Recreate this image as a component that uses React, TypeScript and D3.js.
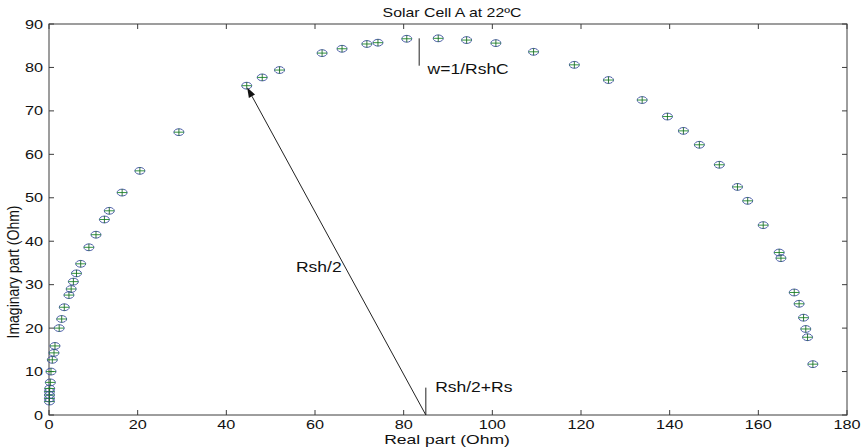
import React from "react";
import * as d3 from "d3";

// Impedance spectrum: real vs. imaginary part (Ohm)
const realPart = [
  0.1, 0.1, 0.1, 0.1, 0.15, 0.3, 0.45, 0.75, 1.13, 1.35,
  2.3, 2.86, 3.45, 4.5, 5.0, 5.5, 6.2, 7.15,
  9.0, 10.6, 12.5, 13.6, 16.5, 20.5, 29.3,
  44.6, 48.1, 52.0,
  61.6, 66.1, 71.7, 74.2, 80.7,
  87.8, 94.2, 100.8, 109.3, 118.5, 126.2,
  133.8, 139.5, 143.1, 146.7, 151.2, 155.3, 157.6, 161.1,
  164.7, 165.1,
  168.1, 169.2, 170.2, 170.7, 171.1, 172.3,
];
const imagPart = [
  3.1, 3.8, 4.6, 5.4, 6.1, 7.5, 10.0, 12.7, 14.3, 15.9,
  20.0, 22.1, 24.8, 27.6, 29.0, 30.7, 32.6, 34.8,
  38.6, 41.5, 45.0, 47.0, 51.2, 56.2, 65.1,
  75.8, 77.7, 79.4,
  83.3, 84.3, 85.4, 85.7, 86.6,
  86.7, 86.3, 85.6, 83.6, 80.6, 77.1,
  72.5, 68.7, 65.4, 62.2, 57.6, 52.5, 49.3, 43.7,
  37.4, 36.1,
  28.2, 25.6, 22.4, 19.8, 17.9, 11.7,
];

const xTicks = [0, 20, 40, 60, 80, 100, 120, 140, 160, 180];
const yTicks = [0, 10, 20, 30, 40, 50, 60, 70, 80, 90];

const title = "Solar Cell A at 22ºC";
const xLabel = "Real part (Ohm)";
const yLabel = "Imaginary part (Ohm)";

// Annotations (data coordinates)
const centerRe = 85; // Rsh/2 + Rs
const arrowTip = [44.7, 75.4];
const peakRe = 83.5;

const W = 863;
const H = 448;
const FONT = "'Liberation Sans', Arial, sans-serif";
const AXIS = "#3c3c3c";

function SText({ x, y, sx = 1.22, size = 13, anchor = "start", children }: any) {
  return (
    <text
      transform={`translate(${x},${y}) scale(${sx},1)`}
      fontSize={size}
      fontFamily={FONT}
      textAnchor={anchor}
      fill="#111"
    >
      {children}
    </text>
  );
}

export default function App() {
  const left = 49, right = 847, top = 24, bottom = 415;
  const x = d3.scaleLinear().domain([0, 180]).range([left, right]);
  const y = d3.scaleLinear().domain([0, 90]).range([bottom, top]);
  const pts = realPart.map((r, i) => [x(r), y(imagPart[i])]);

  // arrow geometry
  const x0 = x(centerRe), y0 = y(0);
  const x1 = x(arrowTip[0]), y1 = y(arrowTip[1]);
  const ang = Math.atan2(y1 - y0, x1 - x0);
  const hl = 10, hw = 3.5;
  const bx = x1 - hl * Math.cos(ang), by = y1 - hl * Math.sin(ang);
  const head = [
    [x1, y1],
    [bx + hw * Math.sin(ang), by - hw * Math.cos(ang)],
    [bx - hw * Math.sin(ang), by + hw * Math.cos(ang)],
  ];

  return (
    <svg
      width={W}
      height={H}
      style={{ position: "absolute", left: 0, top: 0, background: "#fff" }}
    >
      <rect x={0} y={0} width={W} height={H} fill="#fff" />
      <SText x={452} y={17} anchor="middle">{title}</SText>

      {/* axes box */}
      <rect x={left} y={top} width={right - left} height={bottom - top} fill="none" stroke={AXIS} strokeWidth={1} />
      {xTicks.map((t) => (
        <g key={"x" + t}>
          <line x1={x(t)} x2={x(t)} y1={bottom} y2={bottom - 5} stroke={AXIS} />
          <line x1={x(t)} x2={x(t)} y1={top} y2={top + 5} stroke={AXIS} />
          <SText x={x(t)} y={428.8} sx={1.25} anchor="middle">{t}</SText>
        </g>
      ))}
      {yTicks.map((t) => (
        <g key={"y" + t}>
          <line x1={left} x2={left + 5} y1={y(t)} y2={y(t)} stroke={AXIS} />
          <line x1={right} x2={right - 5} y1={y(t)} y2={y(t)} stroke={AXIS} />
          <SText x={43} y={y(t) + 4.6} sx={1.25} anchor="end">{t}</SText>
        </g>
      ))}
      <SText x={447} y={443.6} size={13} sx={1.35} anchor="middle">{xLabel}</SText>
      <text
        transform={`translate(19,272) rotate(-90) scale(1,1.2)`}
        fontSize={14}
        fontFamily={FONT}
        textAnchor="middle"
        fill="#111"
      >
        {yLabel}
      </text>

      {/* markers */}
      {pts.map(([px, py], i) => (
        <g key={i}>
          <ellipse cx={px} cy={py} rx={5} ry={3.4} fill="none" stroke="#3b4f9e" strokeWidth={0.9} />
          <line x1={px - 5} x2={px + 5} y1={py} y2={py} stroke="#1e8a2a" strokeWidth={0.9} />
          <line x1={px} x2={px} y1={py - 3.6} y2={py + 3.6} stroke="#1e6a2a" strokeWidth={0.9} />
        </g>
      ))}

      {/* Rsh/2 radius arrow */}
      <line x1={x0} y1={y0} x2={bx} y2={by} stroke="#222" strokeWidth={1} />
      <polygon points={head.map((p) => p.join(",")).join(" ")} fill="#111" />
      <SText x={x(55.7)} y={y(32.9)} size={14} sx={1.25}>Rsh/2</SText>

      {/* center marker */}
      <line x1={x0} x2={x0} y1={y(0)} y2={y(6.3)} stroke="#222" strokeWidth={1} />
      <SText x={x(87.1)} y={y(5.4)} size={14} sx={1.25}>Rsh/2+Rs</SText>

      {/* peak frequency marker */}
      <line x1={x(peakRe)} x2={x(peakRe)} y1={y(86.7)} y2={y(80.4)} stroke="#222" strokeWidth={1} />
      <SText x={x(85.4)} y={y(78.5)} size={14} sx={1.25}>w=1/RshC</SText>
    </svg>
  );
}
